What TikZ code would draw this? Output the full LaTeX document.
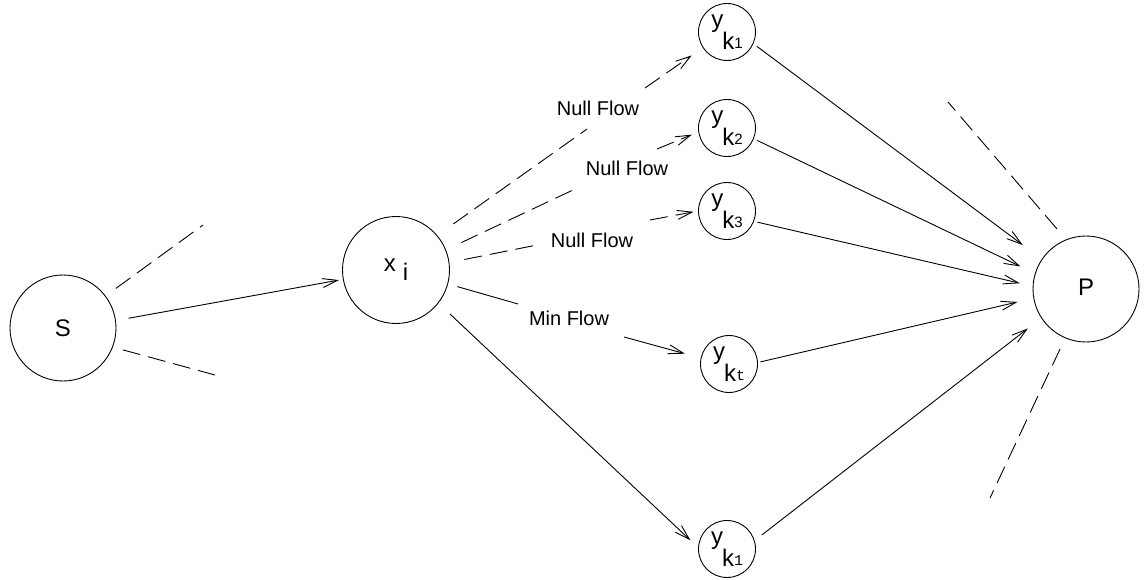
\documentclass[tikz,border=0pt]{standalone}
\usepackage{fontspec}
\setmainfont{Liberation Sans}
\newfontfamily\subfont{Liberation Mono}
\usetikzlibrary{arrows.meta}

% larger type for the names inside the circles
\newcommand{\nm}{\fontsize{24}{26}\selectfont}
% y_{k_n} label: y on top, k lowered, small index beside k
\newcommand{\ylabel}[1]{\nm y\raisebox{-22pt}{\hspace{-1pt}k\raisebox{1pt}{\fontsize{15}{15}\selectfont #1}}}

\begin{document}
\begin{tikzpicture}[x=1pt,y=-1pt,
  every path/.style={line width=0.9pt},
  bignode/.style={circle,draw,line width=0.9pt,minimum size=106pt,inner sep=0pt},
  smallnode/.style={circle,draw,line width=0.9pt,minimum size=57pt,inner sep=0pt},
  flow/.style={-{Straight Barb[length=15pt,width=9pt,line width=0.9pt]}},
  longdash/.style={dash pattern=on 18pt off 8pt},
  flowlabel/.style={inner sep=0pt,font=\fontsize{20}{22}\selectfont}]
\useasboundingbox (0,0) rectangle (1145,580);

% nodes
\node[bignode] (S)  at (63,328)  {\nm S};
\node[bignode,minimum size=107pt] (xi) at (396,270) {\nm x\hspace{7pt}\raisebox{-9pt}{i}};
\node[bignode] (P)  at (1086,289) {\nm\raisebox{3pt}{P}};
\node[smallnode] (yk1) at (727,32)  {\ylabel{1}};
\node[smallnode] (yk2) at (727,128) {\ylabel{2}};
\node[smallnode] (yk3) at (727,211) {\ylabel{3}};
\node[smallnode] (ykt) at (729,364) {\ylabel{\subfont t}};
\node[smallnode] (ykb) at (727,549) {\ylabel{\subfont 1}};

% free ends of the open dashed lines and breaks in the labelled edges
\coordinate (su) at (203,225);
\coordinate (sl) at (215,375);
\coordinate (pu) at (948,102);
\coordinate (pl) at (990,498);
\coordinate (g1a) at (587,129); \coordinate (g1b) at (645,88);
\coordinate (g2a) at (573,190); \coordinate (g2b) at (657,149);
\coordinate (g3a) at (537,245); \coordinate (g3b) at (650,220);
\coordinate (g4a) at (518,304); \coordinate (g4b) at (624,337);

% source side
\draw[flow,shorten <=12.8pt,shorten >=4pt] (S.8.7) -- (xi.190.6);
\draw[longdash,shorten <=12.6pt] (S.37.6) -- (su);
\draw[longdash,shorten <=10.3pt] (S.-21.3) -- (sl);

% null flows
\draw[longdash,shorten <=19.6pt] (xi.40) -- (g1a);
\draw[longdash,flow,shorten >=13.4pt] (g1b) -- (yk1.213.3);
\draw[longdash,shorten <=16.9pt] (xi.22.6) -- (g2a);
\draw[longdash,flow,shorten >=6.9pt] (g2b) -- (yk2.188.1);
\draw[longdash,shorten <=15.2pt] (xi.8.4) -- (g3a);
\draw[longdash,flow,shorten >=4.5pt] (g3b) -- (yk3.180);
\node[flowlabel] (nf1) at (598,108) {Null Flow};
\node[flowlabel] (nf2) at (627,168) {Null Flow};
\node[flowlabel] (nf3) at (592,240) {Null Flow};

% min flow
\draw[shorten <=9.6pt] (xi.345.3) -- (g4a);
\draw[flow,shorten >=16.4pt] (g4b) -- (ykt.168.4);
\node[flowlabel] (mf) at (569,318) {Min Flow};

\draw[flow,shorten <=15.7pt,shorten >=10.5pt] (xi.322.6) -- (ykb.177);

% into the sink
\draw[flow,shorten <=4.2pt,shorten >=23.6pt] (yk1.336.6) -- (P.146.7);
\draw[flow,shorten <=3.8pt,shorten >=16pt] (yk2.338.2) -- (P.163.1);
\draw[flow,shorten <=3.5pt,shorten >=13.1pt] (yk3.339.9) -- (P.177.4);
\draw[flow,shorten <=2.6pt,shorten >=16.2pt] (ykt.3.7) -- (P.190.8);
\draw[flow,shorten <=9pt,shorten >=16.9pt] (ykb.17) -- (P.213.9);
\draw[longdash,shorten <=13.9pt] (P.112) -- (pu);
\draw[longdash,shorten <=12pt] (P.247.4) -- (pl);
\end{tikzpicture}
\end{document}
